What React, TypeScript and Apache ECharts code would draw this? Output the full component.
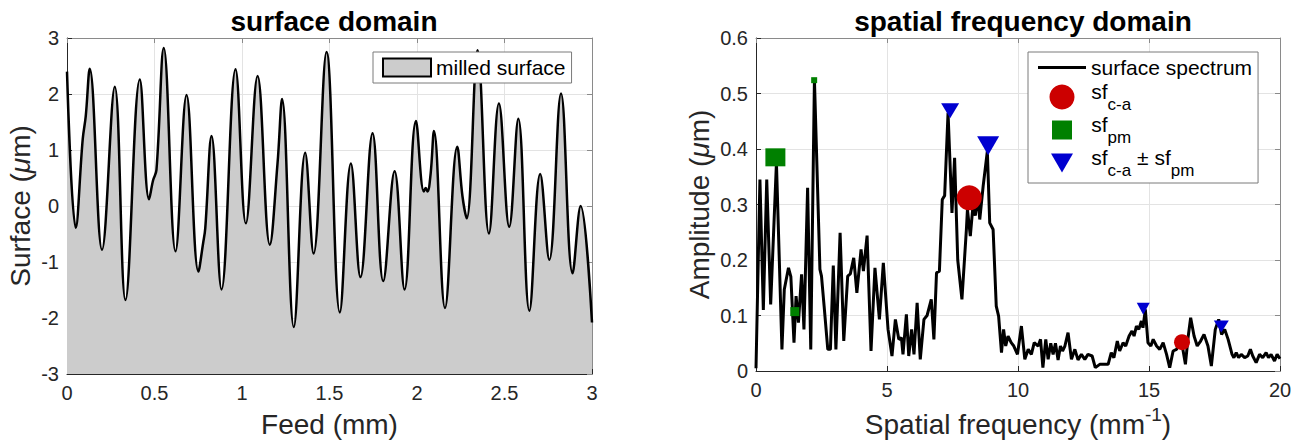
import React, { useEffect, useRef } from 'react';
import * as echarts from 'echarts';

const FONT = '"Liberation Sans", Arial, Helvetica, sans-serif';
const INK = '#262626';

// ---- surface domain ----
const feedMm = [
  0.0, 0.05, 0.09, 0.107, 0.13, 0.2, 0.273, 0.334, 0.416, 0.469, 0.492, 0.511, 0.553, 0.62, 0.683, 0.751,
  0.778, 0.79, 0.826, 0.883, 0.963, 1.022, 1.089, 1.159, 1.203, 1.229, 1.296, 1.361, 1.409, 1.483, 1.559,
  1.622, 1.677, 1.746, 1.807, 1.872, 1.929, 1.994, 2.039, 2.05, 2.06, 2.078, 2.097, 2.16, 2.23, 2.26, 2.284,
  2.346, 2.411, 2.468, 2.527, 2.579, 2.642, 2.704, 2.756, 2.823, 2.889, 2.935, 3.0,
];
const surfaceUm = [
  2.4, -0.39, 1.2, 1.6, 2.45, -0.78, 2.13, -1.68, 2.26, 0.12, 0.46, 0.64, 2.82, -0.81, 1.98, -1.17,
  -0.66, -0.4, 1.25, -1.49, 2.44, -0.31, 2.32, -0.69, 0.76, 1.91, -2.16, 0.95, -0.85, 2.75, -1.9,
  0.76, -1.27, 1.3, -1.34, 0.62, -1.49, 1.52, 0.26, 0.32, 0.26, 0.58, 1.34, -1.82, 1.06, 0.17, -0.22,
  2.78, -0.49, 1.83, -0.37, 1.56, -1.87, 0.57, -0.96, 2.01, -1.2, 0.0, -2.08,
];
const feedTicks = { min: 0, max: 3, interval: 0.5 };
const surfaceTicks = { min: -3, max: 3, interval: 1 };

// ---- spatial frequency domain ----
const freqPerMm = [
  0.0, 0.15, 0.28, 0.41, 0.56, 0.78, 0.99, 1.08, 1.24, 1.33, 1.45, 1.53, 1.62, 1.74, 1.83, 1.97, 2.09, 2.23,
  2.44, 2.5, 2.6, 2.74, 2.84, 2.95, 3.05, 3.21, 3.35, 3.5, 3.6, 3.73, 3.85, 4.01, 4.1, 4.24, 4.39, 4.54,
  4.71, 4.86, 5.04, 5.19, 5.32, 5.45, 5.55, 5.61, 5.74, 5.83, 5.94, 6.03, 6.15, 6.27, 6.41, 6.53, 6.69,
  6.79, 6.89, 7.0, 7.11, 7.2, 7.33, 7.48, 7.58, 7.7, 7.86, 8.03, 8.07, 8.18, 8.28, 8.37, 8.47, 8.54, 8.67,
  8.83, 8.92, 9.05, 9.17, 9.26, 9.37, 9.45, 9.53, 9.62, 9.74, 9.84, 9.98, 10.13, 10.26, 10.39, 10.51,
  10.62, 10.77, 10.86, 10.95, 11.06, 11.15, 11.25, 11.34, 11.43, 11.53, 11.62, 11.7, 11.79, 11.91, 12.04,
  12.17, 12.29, 12.42, 12.55, 12.67, 12.83, 12.95, 13.12, 13.28, 13.44, 13.56, 13.66, 13.79, 13.88, 14.01,
  14.11, 14.24, 14.35, 14.43, 14.52, 14.61, 14.71, 14.77, 14.86, 14.96, 15.07, 15.16, 15.29, 15.41, 15.54,
  15.67, 15.79, 15.92, 16.05, 16.18, 16.26, 16.39, 16.49, 16.59, 16.72, 16.84, 16.97, 17.1, 17.25, 17.38,
  17.53, 17.66, 17.77, 17.89, 18.02, 18.17, 18.24, 18.33, 18.42, 18.52, 18.65, 18.77, 18.87, 18.96, 19.09,
  19.22, 19.34, 19.47, 19.56, 19.66, 19.79, 19.89, 20.0,
];
const amplitudeUm = [
  0.005, 0.345, 0.11, 0.345, 0.12, 0.375, 0.039, 0.147, 0.186, 0.17, 0.051, 0.135, 0.087, 0.174, 0.075, 0.33, 0.039, 0.525,
  0.183, 0.171, 0.117, 0.039, 0.039, 0.19, 0.039, 0.249, 0.054, 0.171, 0.175, 0.204, 0.141, 0.219, 0.18, 0.244, 0.036, 0.186,
  0.093, 0.195, 0.075, 0.027, 0.093, 0.057, 0.06, 0.03, 0.102, 0.027, 0.075, 0.03, 0.123, 0.021, 0.093, 0.1, 0.129,
  0.057, 0.177, 0.18, 0.309, 0.316, 0.465, 0.285, 0.384, 0.2, 0.129, 0.255, 0.291, 0.243, 0.297, 0.28, 0.315, 0.273, 0.333,
  0.396, 0.267, 0.255, 0.117, 0.099, 0.033, 0.075, 0.045, 0.063, 0.051, 0.045, 0.03, 0.081, 0.021, 0.039, 0.03,
  0.051, 0.045, 0.057, 0.006, 0.057, 0.021, 0.05, 0.03, 0.05, 0.02, 0.045, 0.036, 0.045, 0.069, 0.021,
  0.039, 0.02, 0.03, 0.021, 0.03, 0.027, 0.006, 0.012, 0.012, 0.012, 0.033, 0.024, 0.054, 0.036, 0.051,
  0.045, 0.063, 0.072, 0.063, 0.081, 0.075, 0.09, 0.078, 0.111, 0.051, 0.045, 0.057, 0.045, 0.039, 0.051,
  0.03, 0.006, 0.036, 0.039, 0.05, 0.048, 0.012, 0.06, 0.096, 0.063, 0.045, 0.054, 0.066, 0.045, 0.009,
  0.075, 0.093, 0.066, 0.075, 0.057, 0.03, 0.024, 0.033, 0.024, 0.03, 0.024, 0.027, 0.039, 0.027, 0.015,
  0.03, 0.024, 0.033, 0.024, 0.03, 0.018, 0.03, 0.022,
];
const freqTicks = { min: 0, max: 20, interval: 5 };
const ampTicks = { min: 0, max: 0.6, interval: 0.1 };

const sfCaFreq = [8.14, 16.26];
const sfCaAmp = [0.312, 0.052];
const sfPmFreq = [0.74, 1.48, 2.22];
const sfPmAmp = [0.385, 0.107, 0.524];
const sfSideFreq = [7.41, 8.86, 14.78, 17.76];
const sfSideAmp = [0.469, 0.406, 0.112, 0.08];

// marker sizes (styling)
const sfCaSize = [25, 16];
const sfPmSize = [[20, 18], [9, 9], [6, 6]];
const sfSideSize = [[18, 15], [22, 19], [13, 12], [15, 12]];

const RED = '#cc0000';
const GREEN = '#008000';
const BLUE = '#0000d0';

function pairs(xs: number[], ys: number[]) {
  return xs.map((x, i) => [x, ys[i]]);
}

function mainAxisCommon(t: { min: number; max: number; interval: number }) {
  return {
    type: 'value',
    min: t.min,
    max: t.max,
    interval: t.interval,
    axisLine: { show: true, onZero: false, lineStyle: { color: INK, width: 1 } },
    axisTick: { show: true, inside: true, length: 5, lineStyle: { color: INK } },
    axisLabel: { color: INK, fontSize: 20, fontFamily: FONT },
    splitLine: { show: true, lineStyle: { color: '#e3e3e3', width: 1 } },
  };
}
function boxAxisCommon(t: { min: number; max: number; interval: number }) {
  return {
    type: 'value',
    min: t.min,
    max: t.max,
    interval: t.interval,
    axisLine: { show: true, onZero: false, lineStyle: { color: '#8a8a8a', width: 1 } },
    axisTick: { show: true, inside: true, length: 5, lineStyle: { color: '#8a8a8a' } },
    axisLabel: { show: false },
    splitLine: { show: false },
  };
}

export default function App() {
  const ref = useRef<HTMLDivElement>(null);
  useEffect(() => {
    if (!ref.current) return;
    const chart = echarts.init(ref.current, null, { renderer: 'svg' });
    const nameRich = {
      t: { fontSize: 28, fontFamily: FONT, color: INK, lineHeight: 40 },
      i: { fontSize: 28, fontFamily: FONT, fontStyle: 'italic', color: INK, lineHeight: 40 },
      s: { fontSize: 19, fontFamily: FONT, color: INK, verticalAlign: 'top', lineHeight: 19 },
    };
    const legendRich = {
      h: { fontSize: 1, lineHeight: 32 },
      b: { fontSize: 21, fontFamily: FONT, color: '#000', verticalAlign: 'top', lineHeight: 23 },
      s: { fontSize: 17, fontFamily: FONT, color: '#000', verticalAlign: 'bottom', lineHeight: 19 },
    };
    const option: any = {
      animation: false,
      backgroundColor: '#fff',
      textStyle: { fontFamily: FONT },
      title: [
        {
          text: 'surface domain',
          left: 329,
          top: 2,
          textAlign: 'center',
          textStyle: { fontSize: 28, fontWeight: 'bold', color: '#000', fontFamily: FONT },
        },
        {
          text: 'spatial frequency domain',
          left: 1018,
          top: 2,
          textAlign: 'center',
          textStyle: { fontSize: 28, fontWeight: 'bold', color: '#000', fontFamily: FONT },
        },
      ],
      grid: [
        { left: 67, top: 38, width: 525, height: 336, containLabel: false },
        { left: 756, top: 38, width: 524, height: 333, containLabel: false },
      ],
      xAxis: [
        {
          ...mainAxisCommon(feedTicks),
          gridIndex: 0,
          position: 'bottom',
          axisLabel: { color: INK, fontSize: 20, fontFamily: FONT, margin: 9 },
          name: '{t|Feed (mm)}',
          nameLocation: 'middle',
          nameGap: 30,
          nameTextStyle: { rich: nameRich },
        },
        { ...boxAxisCommon(feedTicks), gridIndex: 0, position: 'top' },
        {
          ...mainAxisCommon(freqTicks),
          gridIndex: 1,
          position: 'bottom',
          axisLabel: { color: INK, fontSize: 20, fontFamily: FONT, margin: 9 },
          name: '{t|Spatial frequency (mm}{s|-1}{t|)}',
          nameLocation: 'middle',
          nameGap: 33,
          nameTextStyle: { rich: nameRich },
        },
        { ...boxAxisCommon(freqTicks), gridIndex: 1, position: 'top' },
      ],
      yAxis: [
        {
          ...mainAxisCommon(surfaceTicks),
          gridIndex: 0,
          position: 'left',
          axisLabel: { color: INK, fontSize: 20, fontFamily: FONT, margin: 8 },
          name: '{t|Surface (}{i|μ}{t|m)}',
          nameLocation: 'middle',
          nameGap: 27,
          nameTextStyle: { rich: nameRich },
        },
        { ...boxAxisCommon(surfaceTicks), gridIndex: 0, position: 'right' },
        {
          ...mainAxisCommon(ampTicks),
          gridIndex: 1,
          position: 'left',
          axisLabel: { color: INK, fontSize: 20, fontFamily: FONT, margin: 8 },
          name: '{t|Amplitude (}{i|μ}{t|m)}',
          nameLocation: 'middle',
          nameGap: 37,
          nameTextStyle: { rich: nameRich },
        },
        { ...boxAxisCommon(ampTicks), gridIndex: 1, position: 'right' },
      ],
      legend: [
        {
          orient: 'vertical',
          left: 373,
          top: 52,
          padding: [5, 6, 5, 9],
          itemWidth: 48,
          itemHeight: 18,
          itemGap: 5,
          backgroundColor: '#fff',
          borderColor: '#7a7a7a',
          borderWidth: 1,
          selectedMode: false,
          textStyle: { fontSize: 21, color: '#000', fontFamily: FONT },
          data: [
            {
              name: 'milled surface',
              icon: 'rect',
              itemStyle: { color: '#cccccc', borderColor: '#000', borderWidth: 2 },
            },
          ],
        },
        {
          orient: 'vertical',
          left: 1028,
          top: 52,
          padding: [3, 6, 4, 10],
          itemWidth: 48,
          itemHeight: 25,
          itemGap: 1,
          backgroundColor: '#fff',
          borderColor: '#7a7a7a',
          borderWidth: 1,
          selectedMode: false,
          textStyle: { fontSize: 21, color: '#000', fontFamily: FONT, rich: legendRich },
          formatter: (name: string) => {
            if (name === 'sf_ca') return '{h| }{b|sf}{s|c-a}';
            if (name === 'sf_pm') return '{h| }{b|sf}{s|pm}';
            if (name === 'sf_side') return '{h| }{b|sf}{s|c-a}{b| ± sf}{s|pm}';
            return name;
          },
          data: [
            {
              name: 'surface spectrum',
              icon: 'path://M0,0M48,25M0,11L48,11L48,14L0,14Z',
              itemStyle: { color: '#000', borderWidth: 0 },
            },
            { name: 'sf_ca', icon: 'circle', itemStyle: { color: RED, borderWidth: 0 } },
            {
              name: 'sf_pm',
              icon: 'path://M0,0M25,25M2.5,3L22.5,3L22.5,22L2.5,22Z',
              symbolKeepAspect: true,
              itemStyle: { color: GREEN, borderWidth: 0 },
            },
            {
              name: 'sf_side',
              icon: 'path://M0,0M25,25M1.5,3L23.5,3L12.5,22Z',
              symbolKeepAspect: true,
              itemStyle: { color: BLUE, borderWidth: 0 },
            },
          ],
        },
      ],
      series: [
        {
          name: 'milled surface',
          type: 'line',
          xAxisIndex: 0,
          yAxisIndex: 0,
          data: pairs(feedMm, surfaceUm),
          smooth: 0.4,
          symbol: 'none',
          lineStyle: { color: '#000', width: 2.5 },
          itemStyle: { color: '#cccccc' },
          areaStyle: { color: '#cccccc', opacity: 1, origin: 'start' },
          z: 2,
        },
        {
          name: 'surface spectrum',
          type: 'line',
          xAxisIndex: 2,
          yAxisIndex: 2,
          data: pairs(freqPerMm, amplitudeUm),
          symbol: 'none',
          lineStyle: { color: '#000', width: 3 },
          itemStyle: { color: '#000' },
          z: 2,
        },
        {
          name: 'sf_ca',
          type: 'scatter',
          xAxisIndex: 2,
          yAxisIndex: 2,
          data: pairs(sfCaFreq, sfCaAmp),
          symbol: 'circle',
          symbolSize: (_v: any, p: any) => sfCaSize[p.dataIndex],
          itemStyle: { color: RED, opacity: 1 },
          z: 5,
        },
        {
          name: 'sf_pm',
          type: 'scatter',
          xAxisIndex: 2,
          yAxisIndex: 2,
          data: pairs(sfPmFreq, sfPmAmp),
          symbol: 'rect',
          symbolSize: (_v: any, p: any) => sfPmSize[p.dataIndex],
          itemStyle: { color: GREEN, opacity: 1 },
          z: 5,
        },
        {
          name: 'sf_side',
          type: 'scatter',
          xAxisIndex: 2,
          yAxisIndex: 2,
          data: pairs(sfSideFreq, sfSideAmp),
          symbol: 'triangle',
          symbolRotate: 180,
          symbolSize: (_v: any, p: any) => sfSideSize[p.dataIndex],
          itemStyle: { color: BLUE, opacity: 1 },
          z: 5,
        },
      ],
    };
    chart.setOption(option);
    return () => chart.dispose();
  }, []);
  return (
    <div
      ref={ref}
      style={{ position: 'fixed', left: 0, top: 0, width: 1303, height: 448, background: '#fff' }}
    />
  );
}
